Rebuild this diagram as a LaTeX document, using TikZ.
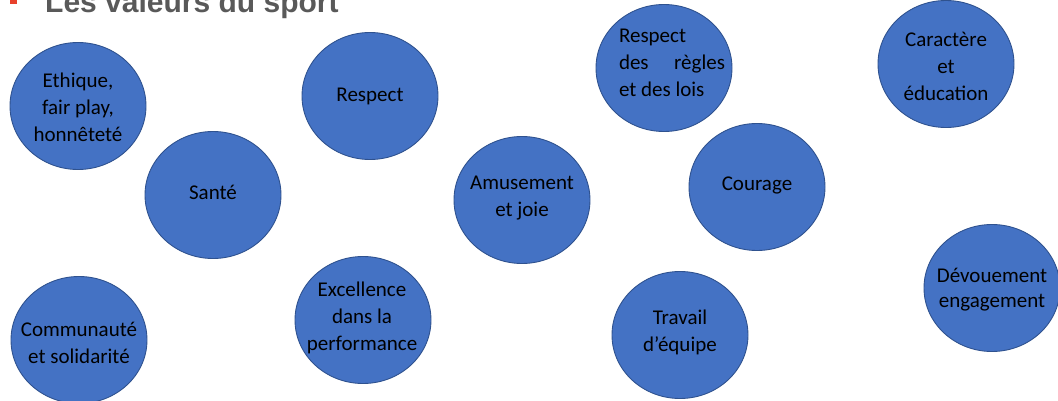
\documentclass[tikz,border=0pt]{standalone}
\usepackage{fontspec}
\setmainfont{Carlito}
\newfontfamily\titlefont{Liberation Sans}
\usetikzlibrary{shapes.geometric}
\definecolor{blobfill}{HTML}{4472C4}
\definecolor{blobline}{HTML}{2F528F}
\definecolor{titlegray}{HTML}{595959}
\definecolor{bulletred}{HTML}{E8412C}
\tikzset{
  blob/.style={ellipse, fill=blobfill, draw=blobline, line width=0.9pt, inner sep=0pt, minimum width=136pt, minimum height=127pt},
  txt/.style={text=black, align=center, inner sep=0pt, font=\fontsize{21}{27}\selectfont},
}
\begin{document}
\begin{tikzpicture}[x=1pt,y=1pt]
\useasboundingbox (0,0) rectangle (1058,-401);
\clip (0,0) rectangle (1058,-401);
% title
\fill[bulletred] (10,-4) rectangle (17,5);
\node[anchor=base west, inner sep=0pt, text=titlegray, font=\titlefont\bfseries\fontsize{30}{36}\selectfont] (title) at (45,-12.5) {Les valeurs du sport};
% circles
\node[blob] (ethique) at (78,-106) {};
\node[txt] (ethique-t) at (78,-107) {Ethique,\\fair play,\\honnêteté};
\node[blob] (sante) at (213,-195) {};
\node[txt] (sante-t) at (213,-192) {Santé};
\node[blob] (respect) at (370,-96) {};
\node[txt] (respect-t) at (370,-96) {Respect};
\node[blob] (amusement) at (522,-200) {};
\node[txt] (amusement-t) at (522,-198) {Amusement\\et joie};
\node[blob] (regles) at (664,-68) {};
\node[txt, align=left] (regles-t) at (672,-63) {Respect\\\makebox[106pt][s]{des\hfill règles}\\et des lois};
\node[blob] (courage) at (757,-187) {};
\node[txt] (courage-t) at (757,-185) {Courage};
\node[blob] (caractere) at (946,-64) {};
\node[txt] (caractere-t) at (946,-66) {Caractère\\et\\éducation};
\node[blob] (devouement) at (992,-288) {};
\node[txt, font=\fontsize{21}{25}\selectfont] (devouement-t) at (992,-290) {Dévouement\\engagement};
\node[blob] (communaute) at (79,-340) {};
\node[txt] (communaute-t) at (79,-343) {Communauté\\et solidarité};
\node[blob] (excellence) at (363,-320) {};
\node[txt] (excellence-t) at (362,-318) {Excellence\\dans la\\performance};
\node[blob] (travail) at (680,-335) {};
\node[txt] (travail-t) at (680,-332) {Travail\\d’équipe};
\end{tikzpicture}
\end{document}
